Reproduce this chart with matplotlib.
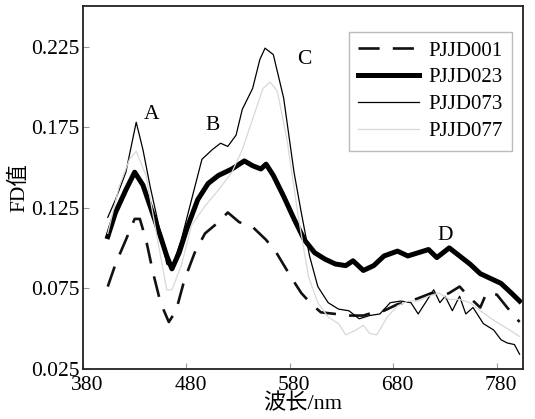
import numpy as np
import matplotlib
matplotlib.use('Agg')
import matplotlib.pyplot as plt
import matplotlib.transforms as mtransforms

plt.rcParams['font.family'] = ['Liberation Serif', 'Noto Sans CJK SC']

# PJJD073 (thin black)
x_073 = [404, 411.5, 421.5, 431.5, 438, 445, 455, 461, 466, 475, 485, 495, 505, 513, 520,
         528, 534, 544, 551, 556, 564, 574, 584, 591, 599, 607, 617, 627, 637, 647, 657,
         667, 677, 687, 697, 704, 712, 719, 725, 730, 737, 744, 750, 757, 767, 777, 784,
         790, 797, 802]
y_073 = [0.119, 0.130, 0.147, 0.178, 0.161, 0.138, 0.109, 0.090, 0.088, 0.105, 0.130, 0.155,
         0.161, 0.165, 0.163, 0.170, 0.186, 0.199, 0.217, 0.224, 0.220, 0.193, 0.147, 0.122,
         0.095, 0.076, 0.066, 0.062, 0.061, 0.056, 0.058, 0.059, 0.066, 0.067, 0.066, 0.059,
         0.067, 0.074, 0.066, 0.070, 0.061, 0.070, 0.059, 0.063, 0.053, 0.049, 0.043, 0.041,
         0.040, 0.034]

# PJJD023 (thick black)
x_023 = [404, 411.5, 421.5, 430, 438, 446, 455, 461, 466, 473, 481, 491, 501, 511, 524, 536,
         544, 552, 557, 564, 574, 584, 594, 604, 614, 624, 634, 641, 651, 661, 671, 684, 694,
         704, 714, 722, 734, 744, 754, 764, 774, 784, 794, 802]
y_023 = [0.107, 0.122, 0.136, 0.147, 0.139, 0.124, 0.107, 0.095, 0.087, 0.097, 0.113, 0.130,
         0.140, 0.145, 0.149, 0.154, 0.151, 0.149, 0.152, 0.145, 0.132, 0.118, 0.105, 0.097,
         0.093, 0.090, 0.089, 0.092, 0.086, 0.089, 0.095, 0.098, 0.095, 0.097, 0.099, 0.094,
         0.100, 0.095, 0.090, 0.084, 0.081, 0.078, 0.072, 0.067]

# PJJD077 (light grey)
x_077 = [404, 415, 425, 431.5, 441, 451, 461, 466, 475, 485, 498, 511, 524, 534, 544, 554,
         561, 568, 577, 588, 598, 607, 617, 627, 634, 644, 651, 657, 664, 674, 684, 694, 704,
         714, 724, 734, 744, 754, 764, 777, 790, 802]
y_077 = [0.109, 0.138, 0.155, 0.160, 0.145, 0.109, 0.074, 0.074, 0.089, 0.114, 0.126, 0.136,
         0.147, 0.161, 0.180, 0.199, 0.203, 0.197, 0.168, 0.120, 0.082, 0.066, 0.057, 0.053,
         0.046, 0.049, 0.052, 0.047, 0.046, 0.057, 0.064, 0.067, 0.067, 0.070, 0.072, 0.068,
         0.068, 0.066, 0.061, 0.055, 0.050, 0.045]

# PJJD001 (dashed)
x_001 = [404, 411.5, 421.5, 430, 435, 441, 448, 455, 463, 470, 478, 488, 498, 511, 520, 531,
         544, 557, 567, 581, 591, 601, 610, 624, 637, 651, 661, 671, 684, 697, 705, 717, 727,
         734, 744, 754, 764, 770, 780, 790, 802]
y_001 = [0.076, 0.090, 0.105, 0.118, 0.118, 0.105, 0.084, 0.066, 0.054, 0.061, 0.080, 0.097,
         0.109, 0.116, 0.122, 0.116, 0.113, 0.105, 0.097, 0.082, 0.072, 0.065, 0.060, 0.059,
         0.058, 0.058, 0.060, 0.061, 0.065, 0.067, 0.069, 0.072, 0.070, 0.072, 0.076, 0.069,
         0.063, 0.072, 0.071, 0.063, 0.054]

peak_labels = ['A', 'B', 'C', 'D']
peak_x = [446, 505, 594, 730]
peak_y = [0.183, 0.176, 0.217, 0.108]

xticks = [380, 480, 580, 680, 780]
yticks = [0.025, 0.075, 0.125, 0.175, 0.225]

fig = plt.figure(figsize=(5.35, 4.19), dpi=100)
ax = fig.add_axes([0.155, 0.12, 0.822, 0.865])

ax.plot(x_001, y_001, color='#111111', lw=1.9, dashes=(8, 5), label='PJJD001')
ax.plot(x_023, y_023, color='black', lw=3.6, label='PJJD023')
ax.plot(x_073, y_073, color='black', lw=0.9, label='PJJD073')
ax.plot(x_077, y_077, color='#d8d8d8', lw=0.9, label='PJJD077')

for lab, px, py in zip(peak_labels, peak_x, peak_y):
    ax.text(px, py, lab, fontsize=15.5, ha='center', va='center')

ax.set_xlim(380, 805)
ax.set_ylim(0.025, 0.25)
ax.set_xticks(xticks)
ax.set_yticks(yticks)
ax.set_yticklabels(['%.3f' % v for v in yticks])
ax.tick_params(direction='in', length=4, width=0.8, color='#999999', labelsize=15.5)
ax.tick_params(axis='x', pad=5)
ax.tick_params(axis='y', pad=2.5)
for sp in ax.spines.values():
    sp.set_linewidth(1.3)
    sp.set_color('#222222')

# x tick labels sit a little right of their ticks in the original
shift = mtransforms.ScaledTranslation(4 / 100, 0, fig.dpi_scale_trans)
for lbl in ax.get_xticklabels():
    lbl.set_transform(lbl.get_transform() + shift)

ax.set_xlabel('波长/nm', fontsize=16, labelpad=-1)
ax.set_ylabel('FD值', fontsize=15.5, labelpad=1)

leg = ax.legend(loc='upper right', bbox_to_anchor=(0.975, 0.93), fontsize=15,
                frameon=True, fancybox=False, edgecolor='#aaaaaa',
                handlelength=2.9, handletextpad=0.45, labelspacing=0.35,
                borderpad=0.45, borderaxespad=0)
leg.get_frame().set_linewidth(1.0)

fig.savefig('out.png', dpi=100)
